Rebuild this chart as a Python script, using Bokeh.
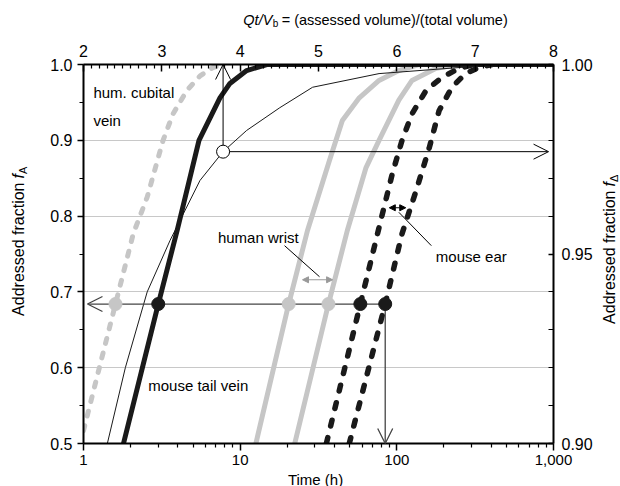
from bokeh.plotting import figure
from bokeh.layouts import row, column
from bokeh.models import (Range1d, LinearAxis, LinearScale, FixedTicker, Arrow, OpenHead,
                          NormalHead, Label, NumeralTickFormatter, PrintfTickFormatter)
from bokeh.embed import file_html
from bokeh.resources import INLINE
import math

# ---------------- data ----------------
# grey dashed curve (hum. cubital vein)
t_cubital_g = [1.0, 1.28, 1.60, 2.08, 2.55, 3.22, 3.73, 4.58, 5.55, 6.7, 7.8]
f_cubital_g = [0.517, 0.605, 0.684, 0.777, 0.825, 0.900, 0.935, 0.966, 0.985, 0.996, 1.0]
# thick black solid (mouse tail vein)
t_tail = [1.80, 3.0, 3.96, 5.46, 7.43, 8.6, 11.0, 14.8, 1000]
f_tail = [0.500, 0.684, 0.781, 0.900, 0.956, 0.975, 0.992, 1.0, 1.0]
# thin black solid
t_thin = [1.42, 1.85, 2.55, 3.57, 5.54, 7.78, 11.0, 17.9, 29, 77, 250, 450, 1000]
f_thin = [0.500, 0.600, 0.700, 0.768, 0.847, 0.885, 0.913, 0.943, 0.970, 0.988, 0.996, 1.0, 1.0]
# grey solid curves (human wrist)
t_wrist1 = [12.6, 20.4, 26.9, 37.1, 44.9, 57.6, 77, 103, 138]
f_wrist1 = [0.500, 0.684, 0.781, 0.873, 0.926, 0.956, 0.979, 0.992, 1.0]
t_wrist2 = [22.3, 36.6, 48.3, 63.6, 77, 103, 125, 178, 250]
f_wrist2 = [0.500, 0.684, 0.781, 0.864, 0.900, 0.953, 0.979, 0.995, 1.0]
# black dashed curves (mouse ear)
t_ear1 = [35.5, 58.5, 77, 93.6, 108, 125, 154, 194, 250, 310]
f_ear1 = [0.500, 0.684, 0.785, 0.856, 0.900, 0.935, 0.966, 0.983, 0.995, 1.0]
t_ear2 = [49.7, 84.3, 108, 133, 161, 186, 225, 274, 333, 405]
f_ear2 = [0.500, 0.684, 0.777, 0.834, 0.890, 0.939, 0.970, 0.988, 0.996, 1.0]

# marked points at f_A = 0.684
f_mark = 0.684
t_dots_grey = [1.60, 20.4, 36.6]
t_dots_black = [3.0, 58.5, 84.3]
# open circle on thin curve
t_open, f_open = 7.78, 0.885

# axis ticks
left_ticks = [0.5, 0.6, 0.7, 0.8, 0.9, 1.0]
left_minor = [0.55, 0.65, 0.75, 0.85, 0.95]
grid_ticks = [0.6, 0.7, 0.8, 0.9]
bottom_ticks = [1, 10, 100, 1000]
bottom_minor = [m * 10 ** d for d in range(3) for m in range(2, 10)]
top_ticks = [2, 3, 4, 5, 6, 7, 8]
top_minor = [round(2 + 0.1 * i, 1) for i in range(1, 60) if i % 10]
right_ticks = [0.90, 0.95, 1.00]
right_minor = [0.91, 0.92, 0.93, 0.94, 0.96, 0.97, 0.98, 0.99]

FONT = "Liberation Sans"
GREY = "#c6c6c6"
BLACK = "#1a1a1a"

# layout sizes (px)
LEFT_W, RIGHT_W, TOP_H, BOTTOM_H, TOTAL_H = 40, 25, 32, 15, 486
MAIN_W = 620 - LEFT_W - RIGHT_W
MAIN_H = TOTAL_H - TOP_H - BOTTOM_H

p = figure(width=MAIN_W, height=MAIN_H, x_axis_type="log",
           x_range=Range1d(1, 1000), y_range=Range1d(0.5, 1.0),
           output_backend="svg", toolbar_location=None,
           min_border_left=43, min_border_right=40, min_border_top=32, min_border_bottom=28)
p.outline_line_color = None
p.xgrid.visible = False
p.ygrid.ticker = FixedTicker(ticks=grid_ticks)
p.ygrid.grid_line_color = "#c8c8c8"
p.ygrid.grid_line_width = 1

p.extra_x_ranges = {"top": Range1d(2, 8)}
p.extra_x_scales = {"top": LinearScale()}
p.extra_y_ranges = {"right": Range1d(0.90, 1.00)}
p.extra_y_scales = {"right": LinearScale()}

def style(ax, size="16px"):
    ax.axis_line_color = "black"
    ax.axis_line_width = 2
    ax.major_tick_line_color = "black"
    ax.minor_tick_line_color = "black"
    ax.major_tick_line_width = 1.5
    ax.minor_tick_line_width = 1.2
    ax.major_label_text_font = FONT
    ax.major_label_text_font_size = size
    ax.major_label_text_color = "black"

xa = p.xaxis[0]
style(xa, "15px")
xa.ticker = FixedTicker(ticks=bottom_ticks, minor_ticks=bottom_minor)
xa.formatter = NumeralTickFormatter(format="0,0")
xa.major_tick_in, xa.major_tick_out = 0, 7
xa.minor_tick_in, xa.minor_tick_out = 0, 4
xa.major_label_standoff = 4

ya = p.yaxis[0]
style(ya)
ya.ticker = FixedTicker(ticks=left_ticks, minor_ticks=left_minor)
ya.formatter = PrintfTickFormatter(format="%.1f")
ya.major_tick_in, ya.major_tick_out = 0, 6
ya.minor_tick_in, ya.minor_tick_out = 0, 4
ya.major_label_standoff = 5

top = LinearAxis(x_range_name="top")
style(top)
top.ticker = FixedTicker(ticks=top_ticks, minor_ticks=top_minor)
top.formatter = PrintfTickFormatter(format="%d")
top.major_tick_in, top.major_tick_out = 7, 0
top.minor_tick_in, top.minor_tick_out = 4, 0
top.major_label_standoff = 8
p.add_layout(top, "above")

right = LinearAxis(y_range_name="right")
style(right)
right.ticker = FixedTicker(ticks=right_ticks, minor_ticks=right_minor)
right.formatter = PrintfTickFormatter(format="%.2f")
right.major_tick_in, right.major_tick_out = 5, 0
right.minor_tick_in, right.minor_tick_out = 5, 0
right.major_label_standoff = 8
p.add_layout(right, "right")

# ---------------- curves ----------------
p.line(t_cubital_g, f_cubital_g, line_color=GREY, line_width=5, line_dash="5 10", line_cap="round")
p.line(t_wrist1, f_wrist1, line_color=GREY, line_width=5)
p.line(t_wrist2, f_wrist2, line_color=GREY, line_width=5)
p.line(t_ear1, f_ear1, line_color=BLACK, line_width=5.5, line_dash="6 12", line_cap="round")
p.line(t_ear2, f_ear2, line_color=BLACK, line_width=5.5, line_dash="6 12", line_cap="round")
p.line(t_tail, f_tail, line_color=BLACK, line_width=5)
p.line(t_thin, f_thin, line_color=BLACK, line_width=1)

# ---------------- arrows ----------------
t_arrow_left = 1.06
t_arrow_right = 930
p.add_layout(Arrow(x_start=t_dots_black[-1], y_start=f_mark, x_end=t_arrow_left, y_end=f_mark,
                   line_color="#444444", line_width=1.3,
                   end=OpenHead(size=15, line_color="#444444", line_width=1.3)))
p.add_layout(Arrow(x_start=t_dots_black[-1], y_start=f_mark, x_end=t_dots_black[-1], y_end=0.5,
                   line_color="#444444", line_width=1.3,
                   end=OpenHead(size=15, line_color="#444444", line_width=1.3)))
p.add_layout(Arrow(x_start=t_open, y_start=f_open, x_end=t_open, y_end=1.0,
                   line_color="black", line_width=1,
                   end=OpenHead(size=15, line_color="black", line_width=1)))
p.add_layout(Arrow(x_start=t_open, y_start=f_open, x_end=t_arrow_right, y_end=f_open,
                   line_color="black", line_width=1,
                   end=OpenHead(size=15, line_color="black", line_width=1)))

# double arrows and leader lines
wrist_arrow_t = [25.0, 38.9]
wrist_arrow_f = 0.716
ear_arrow_t = [89.5, 114.0]
ear_arrow_f = 0.811
p.add_layout(Arrow(x_start=wrist_arrow_t[0], y_start=wrist_arrow_f, x_end=wrist_arrow_t[1], y_end=wrist_arrow_f,
                   line_color="#999999", line_width=1.2,
                   start=NormalHead(size=6, fill_color="#999999", line_color="#999999"),
                   end=NormalHead(size=6, fill_color="#999999", line_color="#999999")))
p.add_layout(Arrow(x_start=ear_arrow_t[0], y_start=ear_arrow_f, x_end=ear_arrow_t[1], y_end=ear_arrow_f,
                   line_color="black", line_width=1.2,
                   start=NormalHead(size=6, fill_color="black", line_color="black"),
                   end=NormalHead(size=6, fill_color="black", line_color="black")))
wrist_leader_t = [19.2, 32.1]
wrist_leader_f = [0.761, 0.720]
ear_leader_t = [103, 166]
ear_leader_f = [0.805, 0.761]
p.line(wrist_leader_t, wrist_leader_f, line_color="black", line_width=1)
p.line(ear_leader_t, ear_leader_f, line_color="black", line_width=1)

# ---------------- points ----------------
r1 = p.scatter(t_dots_grey, [f_mark] * len(t_dots_grey), size=13, fill_color=GREY, line_color=GREY)
r2 = p.scatter(t_dots_black, [f_mark] * len(t_dots_black), size=13, fill_color=BLACK, line_color=BLACK)
r3 = p.scatter([t_open], [f_open], size=13, fill_color="white", line_color="black", line_width=1)
for r in (r1, r2, r3):
    r.level = "overlay"

# ---------------- texts ----------------
def lab(fig, x, y, text, size="15px", style="normal", align="left", baseline="middle", angle=0.0):
    fig.add_layout(Label(x=x, y=y, text=text, text_font=FONT, text_font_size=size,
                         text_font_style=style, text_align=align, text_baseline=baseline,
                         angle=angle, text_color="black"))

lab(p, 1.157, 0.963, "hum. cubital")
lab(p, 1.157, 0.926, "vein")
lab(p, 7.21, 0.772, "human wrist")
lab(p, 177.5, 0.747, "mouse ear")
lab(p, 2.59, 0.577, "mouse tail vein")

def strip(w, h):
    f = figure(width=w, height=h, x_range=Range1d(0, w), y_range=Range1d(0, h),
               output_backend="svg", toolbar_location=None,
               x_axis_location=None, y_axis_location=None,
               min_border_left=0, min_border_right=0, min_border_top=0, min_border_bottom=0)
    f.outline_line_color = None
    f.grid.visible = False
    return f

rot = math.pi / 2
# left axis title
left_fig = strip(LEFT_W, TOTAL_H)
lab(left_fig, 18, 304, "Addressed fraction", size="16px", align="right", baseline="alphabetic", angle=rot)
lab(left_fig, 18, 308, "f", size="16px", style="italic", align="left", baseline="alphabetic", angle=rot)
lab(left_fig, 22, 312.5, "A", size="11px", align="left", baseline="alphabetic", angle=rot)

# right axis title
right_fig = strip(RIGHT_W, TOTAL_H)
lab(right_fig, 14, 296, "Addressed fraction", size="16px", align="right", baseline="alphabetic", angle=rot)
lab(right_fig, 14, 300, "f", size="16px", style="italic", align="left", baseline="alphabetic", angle=rot)
lab(right_fig, 18, 304.5, "\u0394", size="11px", align="left", baseline="alphabetic", angle=rot)

# top axis title
top_fig = strip(MAIN_W, TOP_H)
lab(top_fig, 223, 13, "Qt/V", size="14.5px", style="italic", align="right", baseline="middle")
lab(top_fig, 223.5, 9, "b", size="10px", align="left", baseline="middle")
lab(top_fig, 234, 13, "= (assessed volume)/(total volume)", size="14.5px", align="left", baseline="middle")

# bottom axis title
bottom_fig = strip(MAIN_W, BOTTOM_H)
lab(bottom_fig, 274, 7.5, "Time (h)", size="15px", align="center", baseline="middle")

layout = row(left_fig, column(top_fig, p, bottom_fig, spacing=0), right_fig, spacing=0)

open("out.html", "w").write(file_html(layout, INLINE))
